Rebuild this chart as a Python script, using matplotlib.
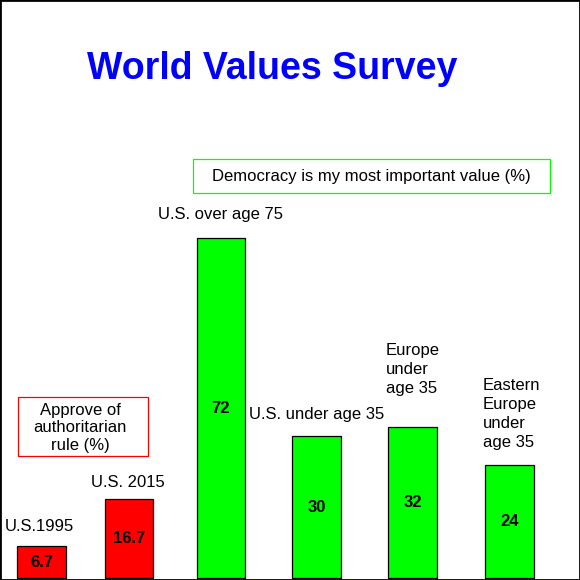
import matplotlib
matplotlib.use("Agg")
import matplotlib.pyplot as plt
from matplotlib.patches import Rectangle
import numpy as np

plt.rcParams['font.family'] = ['Liberation Sans', 'DejaVu Sans']

# ---- data ----
categories = ["U.S.1995", "U.S. 2015", "U.S. over age 75", "U.S. under age 35",
              "Europe\nunder\nage 35", "Eastern\nEurope\nunder\nage 35"]
values = [6.7, 16.7, 72, 30, 32, 24]
value_labels = ["6.7", "16.7", "72", "30", "32", "24"]
series = ["authoritarian", "authoritarian", "democracy", "democracy", "democracy", "democracy"]
legend_auth = "Approve of\nauthoritarian\nrule (%)"
legend_demo = "Democracy is my most important value (%)"
title = "World Values Survey"

# ---- layout ----
bar_positions = [0, 0.934, 1.915, 2.935, 3.959, 4.994]
colors = {"authoritarian": "#FF0000", "democracy": "#00FF00"}

W = H = 580
fig = plt.figure(figsize=(5.8, 5.8), dpi=100)
fig.patch.set_facecolor('white')

ax = fig.add_axes([0, 0, 1, 1])
ax.set_axis_off()
x = np.array(bar_positions)
ax.set_xlim(-41.5 / 93.7, (580 - 41.5) / 93.7)
ax.set_ylim(-0.42, 122.46)

ax.bar(x, values, width=0.52, color=[colors[s] for s in series],
       edgecolor='black', linewidth=0.9, zorder=2)

for xi, v, lab in zip(x, values, value_labels):
    ax.text(xi, v / 2, lab, ha='center', va='center', fontsize=12,
            fontweight='bold', color='black', zorder=3)

# category labels: (ha, dx px, dy px, va)
label_layout = [
    ('center', -2, 15, 'baseline'),
    ('center', -1, 12, 'baseline'),
    ('center', 0, 19, 'baseline'),
    ('center', 0, 17, 'baseline'),
    ('left', -2, 31, 'bottom'),
    ('left', -2, 15, 'bottom'),
]
for xi, v, cat, (ha, dx, dy, va) in zip(x, values, categories, label_layout):
    xx = xi - 0.26 if ha == 'left' else xi
    ax.annotate(cat, xy=(xx, v), xytext=(dx, dy), textcoords='offset pixels',
                ha=ha, va=va, fontsize=12, color='black', linespacing=1.33)

def fx(px):
    return px / W

def fy(py):
    return 1 - py / H

# title
fig.text(fx(272.5), fy(79), title, ha='center', va='baseline', fontsize=27,
         fontweight='bold', color='#0000FF')

# legend boxes
fig.patches.append(Rectangle((fx(18), fy(456)), (148 - 18) / W, (456 - 397) / H,
                             transform=fig.transFigure, facecolor='white',
                             edgecolor='#FF0000', linewidth=0.9))
fig.text(fx(80), fy(428), legend_auth, ha='center', va='center', fontsize=12,
         linespacing=1.18, multialignment='center')
fig.patches.append(Rectangle((fx(193), fy(193)), (550 - 193) / W, (193 - 159) / H,
                             transform=fig.transFigure, facecolor='white',
                             edgecolor='#00FF00', linewidth=0.9))
fig.text(fx(371), fy(177), legend_demo, ha='center', va='center', fontsize=12)

# border
fig.patches.append(Rectangle((0, 0), 1, 1, transform=fig.transFigure,
                             facecolor='none', edgecolor='black', linewidth=2.0))

fig.savefig("out.png", dpi=100)
